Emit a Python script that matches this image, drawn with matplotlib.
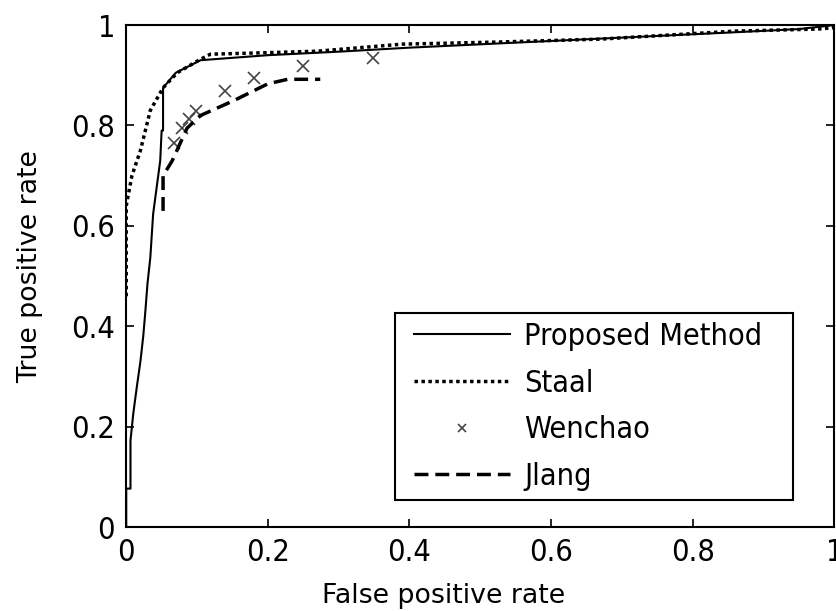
"""
plot.py - ROC curves comparing the proposed method with Staal, Wenchao and Jiang.

Usage:
    python plot.py
"""

import matplotlib
matplotlib.use("Agg")
import matplotlib.pyplot as plt
from matplotlib.patches import Rectangle

# Proposed method (solid)
proposed_fpr = [0.0, 0.0, 0.006, 0.006, 0.010, 0.015, 0.020, 0.024, 0.027, 0.030,
                0.034, 0.038, 0.048, 0.050, 0.052, 0.052, 0.070, 0.105, 0.20,
                0.30, 0.40, 0.55, 0.70, 0.85, 0.95, 1.0]
proposed_tpr = [0.0, 0.077, 0.077, 0.173, 0.227, 0.28, 0.33, 0.38, 0.43, 0.485,
                0.537, 0.624, 0.73, 0.79, 0.79, 0.875, 0.905, 0.930, 0.940,
                0.947, 0.955, 0.965, 0.975, 0.985, 0.992, 1.0]

# Staal (dotted)
staal_fpr = [0.0, 0.0, 0.008, 0.020, 0.034, 0.052, 0.072, 0.105, 0.119, 0.20,
             0.27, 0.39, 0.52, 0.67, 0.86, 0.977, 1.0]
staal_tpr = [0.46, 0.64, 0.70, 0.75, 0.83, 0.875, 0.905, 0.932, 0.942, 0.945,
             0.948, 0.962, 0.966, 0.972, 0.988, 0.992, 0.995]

# Wenchao (x markers)
wenchao_fpr = [0.067, 0.079, 0.088, 0.098, 0.140, 0.180, 0.249, 0.348]
wenchao_tpr = [0.766, 0.796, 0.813, 0.829, 0.869, 0.895, 0.918, 0.934]

# Jiang (dashed)
jiang_fpr = [0.052, 0.052, 0.065, 0.086, 0.105, 0.151, 0.200, 0.228, 0.274]
jiang_tpr = [0.63, 0.70, 0.73, 0.795, 0.82, 0.849, 0.883, 0.892, 0.892]

ticks = [0, 0.2, 0.4, 0.6, 0.8, 1]
tick_labels = ["0", "0.2", "0.4", "0.6", "0.8", "1"]

plt.rcParams["font.family"] = ["DejaVu Sans"]
plt.rcParams["font.stretch"] = "condensed"

fig = plt.figure(figsize=(8.36, 6.11), dpi=100)
ax = fig.add_axes([0.151, 0.137, 0.847, 0.822])

ax.plot(proposed_fpr, proposed_tpr, color="black", linewidth=1.5, label="Proposed Method")
ax.plot(staal_fpr, staal_tpr, color="black", linewidth=2.5, linestyle=(0, (1, 1)), label="Staal")
ax.plot(wenchao_fpr, wenchao_tpr, linestyle="none", marker="x", markersize=9,
        markeredgewidth=1.2, color="#444444", label="Wenchao")
ax.plot(jiang_fpr, jiang_tpr, color="black", linewidth=2.5, linestyle=(0, (4, 2)), label="Jlang")

ax.set_xlim(0, 1)
ax.set_ylim(0, 1)
ax.set_xticks(ticks)
ax.set_xticklabels(tick_labels)
ax.set_yticks(ticks)
ax.set_yticklabels(tick_labels)
ax.tick_params(direction="in", top=True, right=True, length=6, width=1.2,
               labelsize=22, pad=8)
for side in ax.spines.values():
    side.set_linewidth(1.5)

ax.set_xlabel("False positive rate", fontsize=19.3, fontstretch="normal")
ax.set_ylabel("True positive rate", fontsize=19.3, fontstretch="normal")
ax.xaxis.set_label_coords(0.448, -0.110)
ax.yaxis.set_label_coords(-0.117, 0.52)

# legend without its own frame; the box is drawn wider than the entries, as in the source
leg = ax.legend(loc="lower right", bbox_to_anchor=(0.907, 0.060), fontsize=22,
                frameon=False, handlelength=3.15, labelspacing=0.58,
                borderpad=0.2, borderaxespad=0, handletextpad=0.45,
                markerscale=0.6)
fig.canvas.draw()
bb = leg.get_window_extent()
frame = Rectangle((bb.x0 - 13, bb.y0 - 3), bb.width + 38, bb.height + 6, transform=None,
                  fill=False, edgecolor="black", linewidth=1.5, zorder=5)
fig.add_artist(frame)

fig.savefig("out.png", dpi=100)
